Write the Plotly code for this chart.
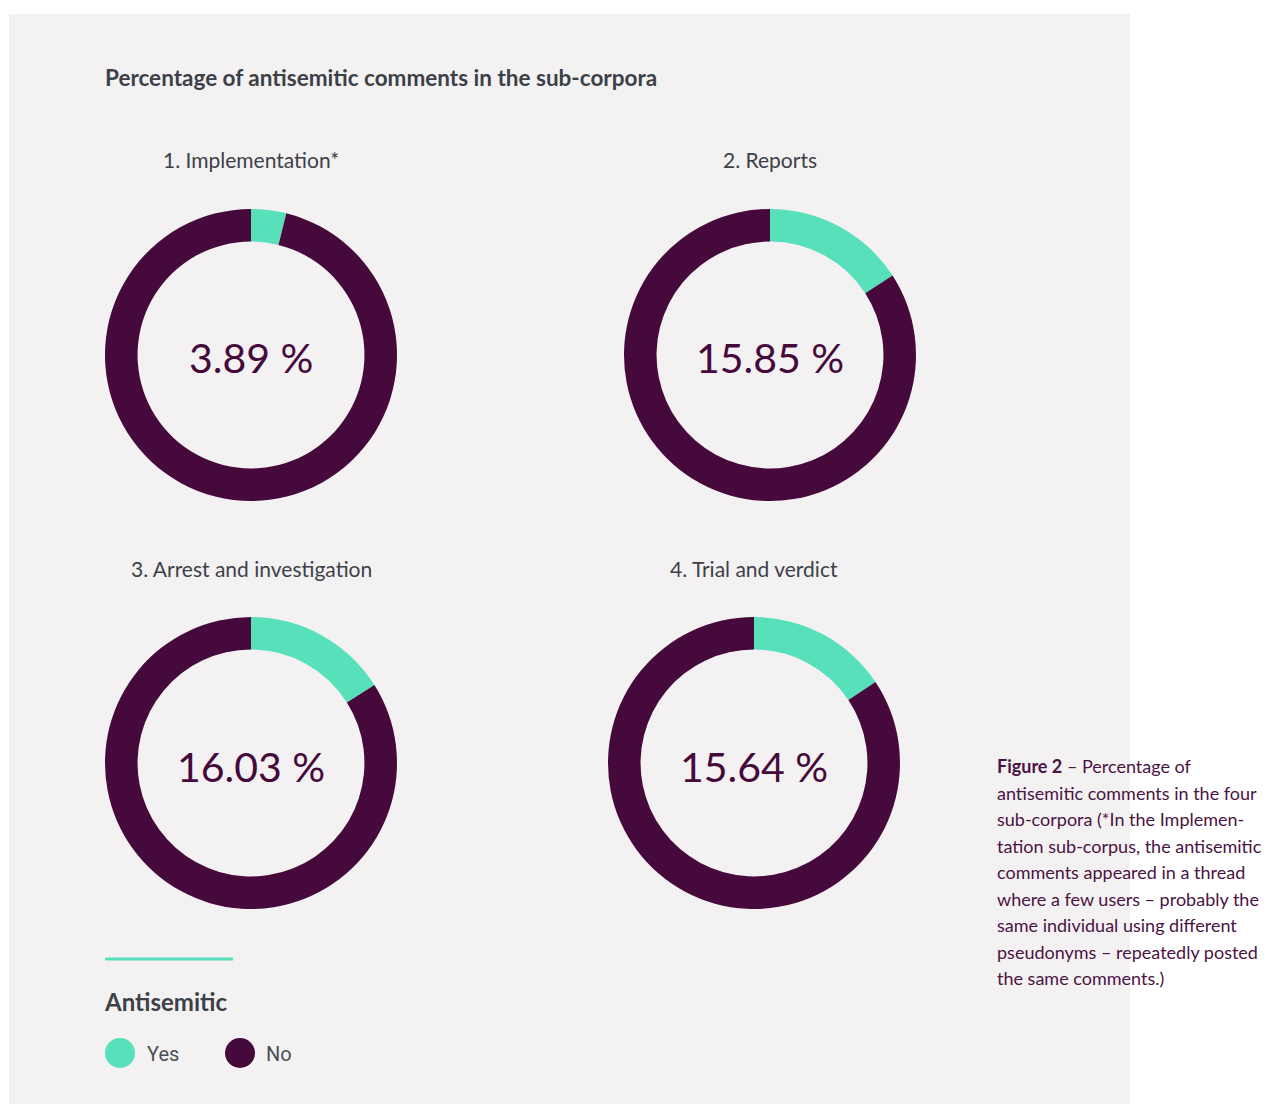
import plotly.graph_objects as go

# ---- data ----
categories = ["1. Implementation*", "2. Reports", "3. Arrest and investigation", "4. Trial and verdict"]
yes_pct = [3.89, 15.85, 16.03, 15.64]
no_pct = [round(100 - v, 2) for v in yes_pct]
center_labels = ["3.89 %", "15.85 %", "16.03 %", "15.64 %"]
legend_labels = ["Yes", "No"]

caption_lines = [
    "<b>Figure 2</b> – Percentage of",
    "antisemitic comments in the four",
    "sub-corpora (*In the Implemen-",
    "tation sub-corpus, the antisemitic",
    "comments appeared in a thread",
    "where a few users – probably the",
    "same individual using different",
    "pseudonyms – repeatedly posted",
    "the same comments.)",
]

# ---- style ----
OFF = 8  # page body margin
W, H = 1274 - OFF, 1104 - OFF
PURPLE = "#450a3b"
TEAL = "#57e0b9"
PANEL = "#f3f1f2"
GRAY_TXT = "#3c4148"
CAP_TXT = "#4b1343"
FONT = "Lato"


def px(x):
    return (x - OFF) / W


def py(y):
    return 1 - (y - OFF) / H


centers = [(251, 355), (770, 355), (251, 763), (754, 763)]
title_pos = [(251, 160), (770, 160), (251, 568), (754, 568)]
R = 146

fig = go.Figure()
annotations = []
for i, cat in enumerate(categories):
    cx, cy = centers[i]
    fig.add_trace(go.Pie(
        labels=legend_labels,
        values=[yes_pct[i], no_pct[i]],
        hole=0.777,
        sort=False,
        direction="clockwise",
        rotation=0,
        marker=dict(colors=[TEAL, PURPLE], line=dict(width=0)),
        textinfo="none",
        hoverinfo="label+value",
        showlegend=False,
        domain=dict(x=[px(cx - R), px(cx + R)], y=[py(cy + R), py(cy - R)]),
    ))
    tx, ty = title_pos[i]
    annotations.append(dict(
        x=px(tx), y=py(ty), xref="paper", yref="paper", text=cat,
        showarrow=False, xanchor="center", yanchor="middle",
        font=dict(family=FONT, size=21, color=GRAY_TXT)))
    annotations.append(dict(
        x=px(cx), y=py(cy + 3), xref="paper", yref="paper", text=center_labels[i],
        showarrow=False, xanchor="center", yanchor="middle",
        font=dict(family=FONT, size=41, color=PURPLE)))

# main title
annotations.append(dict(
    x=px(103), y=py(78), xref="paper", yref="paper",
    text="<b>Percentage of antisemitic comments in the sub-corpora</b>",
    showarrow=False, xanchor="left", yanchor="middle",
    font=dict(family=FONT, size=22.5, color=GRAY_TXT)))

# legend
annotations.append(dict(
    x=px(102), y=py(1001), xref="paper", yref="paper", text="<b>Antisemitic</b>",
    showarrow=False, xanchor="left", yanchor="middle",
    font=dict(family=FONT, size=24, color=GRAY_TXT)))
leg_x = [120, 240]
leg_txt_x = [145, 264]
leg_colors = [TEAL, PURPLE]
shapes = [
    dict(type="rect", xref="paper", yref="paper", x0=px(9), x1=px(1130), y0=py(1104), y1=py(14),
         fillcolor=PANEL, line=dict(width=0), layer="below"),
    dict(type="line", xref="paper", yref="paper", x0=px(105), x1=px(233), y0=py(959), y1=py(959),
         line=dict(color=TEAL, width=3)),
]
for j, lab in enumerate(legend_labels):
    shapes.append(dict(type="circle", xref="paper", yref="paper",
                       x0=px(leg_x[j] - 15), x1=px(leg_x[j] + 15),
                       y0=py(1053 + 15), y1=py(1053 - 15),
                       fillcolor=leg_colors[j], line=dict(width=0)))
    annotations.append(dict(
        x=px(leg_txt_x[j]), y=py(1054), xref="paper", yref="paper", text=lab,
        showarrow=False, xanchor="left", yanchor="middle",
        font=dict(family="Roboto", size=20, color="#4a4f55")))

# caption
for k, line in enumerate(caption_lines):
    annotations.append(dict(
        x=px(995), y=py(766 + 26.5 * k), xref="paper", yref="paper", text=line,
        showarrow=False, xanchor="left", yanchor="middle",
        font=dict(family=FONT, size=18, color=CAP_TXT)))

fig.update_layout(
    width=W, height=H,
    margin=dict(l=0, r=0, t=0, b=0),
    paper_bgcolor="white",
    plot_bgcolor="white",
    annotations=annotations,
    shapes=shapes,
    showlegend=False,
)

fig.write_html("out.html")
